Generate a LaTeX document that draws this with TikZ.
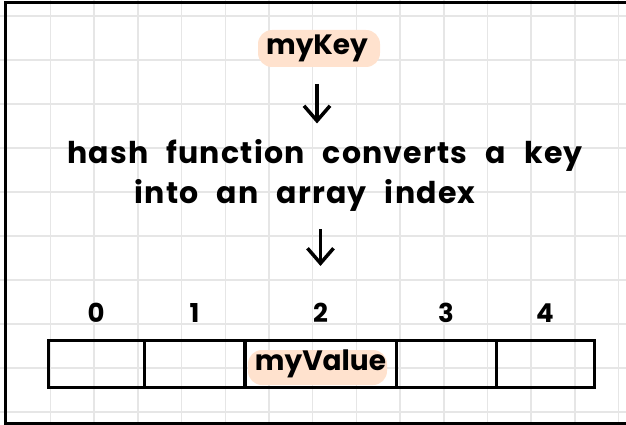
\documentclass[tikz,border=0pt]{standalone}
\usepackage{fontspec}
\setmainfont{Poppins}
\newfontfamily\spreadfont{Poppins}[WordSpace=2.4, LetterSpace=4]
\usetikzlibrary{matrix,arrows.meta}

\definecolor{peach}{RGB}{255,226,206}
\definecolor{gridgray}{RGB}{230,230,230}

\begin{document}
\begin{tikzpicture}[x=1pt, y=-1pt, line width=3pt,
    >={Straight Barb[length=15pt,width=26pt]},
    hand/.style={font=\bfseries\fontsize{28}{30}\selectfont, inner sep=0pt},
    spread/.style={font=\spreadfont\bfseries\fontsize{30}{32}\selectfont, inner sep=0pt},
    digit/.style={font=\bfseries\fontsize{26}{28}\selectfont, inner sep=0pt},
    blob/.style={fill=peach, rounded corners=14pt, draw=none}]
\useasboundingbox (0,0) rectangle (626,425);

% paper grid
\foreach \i in {0,...,13}
    \draw[gridgray, line width=1.5pt] (50.5+43.7*\i,0) -- (50.5+43.7*\i,425);
\foreach \j in {0,...,9}
    \draw[gridgray, line width=1.5pt] (0,16+44*\j) -- (626,16+44*\j);

% frame
\draw (626,2.5) -- (5.5,2.5) -- (5.5,423) -- (626,423);

% highlighter
\path[blob] (258,30) rectangle (380,67);
\path[blob] (248,350) rectangle (387,385);

\node[hand, anchor=base] (key) at (317,55) {myKey};
\node[spread, anchor=base] (hash1) at (325,163) {hash function converts a key};
\node[spread, anchor=base] (hash2) at (305,203) {into an array index};

\matrix[matrix of nodes, nodes in empty cells, column sep=-3pt, row sep=16pt,
        inner sep=0pt, outer sep=0pt, anchor=south,
        row 1/.style={nodes={digit}},
        row 2/.style={nodes={hand, draw, anchor=center, minimum height=47pt, outer sep=0pt}},
        column 1/.style={nodes={minimum width=96pt}},
        column 2/.style={nodes={minimum width=101pt}},
        column 3/.style={nodes={minimum width=151pt}},
        column 4/.style={nodes={minimum width=100pt}},
        column 5/.style={nodes={minimum width=98pt}}
       ] (arr) at (321,388.5)
{
    0 & 1 & 2 & 3 & 4 \\
      &   & myValue & & \\
};

\draw[->, line width=3.5pt, shorten <=20pt, shorten >=14pt] (key.south) -- (key.south |- hash1.north);
\draw[->, line width=3.5pt, shorten <=17pt, shorten >=37pt] (hash2.south -| arr-1-3) -- (arr-1-3.north);

\end{tikzpicture}
\end{document}
